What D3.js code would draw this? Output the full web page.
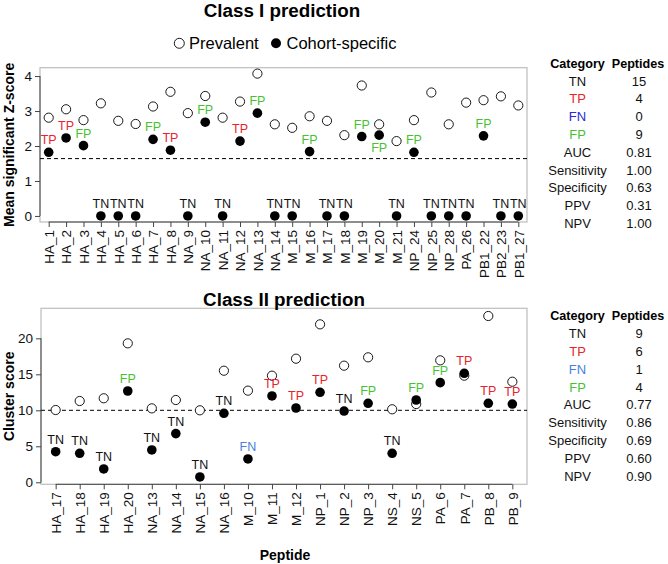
<!DOCTYPE html>
<html><head><meta charset="utf-8">
<script src="https://cdn.jsdelivr.net/npm/d3@7"></script>
<style>body{margin:0;background:#fff}svg{display:block;font-family:"Liberation Sans",Arial,Helvetica,sans-serif}</style>
</head><body>
<svg id="chart" width="668" height="564"></svg>
<script>
const classICats = ["HA_1","HA_2","HA_3","HA_4","HA_5","HA_6","HA_7","HA_8","NA_9","NA_10","NA_11","NA_12","NA_13","NA_14","M_15","M_16","M_17","M_18","M_19","M_20","M_21","NP_24","NP_25","NP_28","PA_26","PB1_22","PB2_23","PB1_27"];
const classIPrevalent = [2.81,3.05,2.74,3.22,2.72,2.63,3.13,3.55,2.94,3.43,2.81,3.27,4.07,2.62,2.52,2.85,2.72,2.31,3.73,2.62,2.14,2.74,3.53,2.62,3.24,3.31,3.42,3.16];
const classICohort = [1.82,2.23,2.01,0,0,0,2.19,1.88,0,2.68,0,2.14,2.94,0,0,1.84,0,0,2.27,2.31,0,1.82,0,0,0,2.29,0,0];
const classILabels = ["TP","TP","FP","TN","TN","TN","FP","TP","TN","FP","TN","TP","FP","TN","TN","FP","TN","TN","FP","FP","TN","FP","TN","TN","TN","FP","TN","TN"];
const classIThreshold = 1.64;
const classITicks = [0,1,2,3,4];

const classIICats = ["HA_17","HA_18","HA_19","HA_20","NA_13","NA_14","NA_15","NA_16","M_10","M_11","M_12","NP_1","NP_2","NP_3","NS_4","NS_5","PA_6","PA_7","PB_8","PB_9"];
const classIIPrevalent = [10.04,11.29,11.67,19.3,10.27,11.43,10.0,15.5,12.73,14.81,17.17,21.94,16.2,17.36,10.14,10.87,16.94,14.81,23.1,13.97];
const classIICohort = [4.25,4.03,1.85,12.68,4.49,6.76,0.74,9.58,3.24,11.99,10.32,12.5,9.9,10.97,4.03,11.43,13.84,15.14,10.97,10.87];
const classIILabels = ["TN","TN","TN","FP","TN","TN","TN","TN","FN","TP","TP","TP","TN","FP","TN","FP","FP","TP","TP","TP"];
const classIIThreshold = 10;
const classIITicks = [0,5,10,15,20];

const tableRows = ["TN","TP","FN","FP","AUC","Sensitivity","Specificity","PPV","NPV"];
const classITable = ["15","4","0","9","0.81","1.00","0.63","0.31","1.00"];
const classIITable = ["9","6","1","4","0.77","0.86","0.69","0.60","0.90"];
const labelsBelow = ["M_20"];

const svg = d3.select("#chart");
const FONT = '"Liberation Sans",Arial,Helvetica,sans-serif';

function drawPanel(opt){
  const g = svg.append("g");
  const x = d3.scalePoint().domain(opt.cats).range([opt.left, opt.right]).padding(opt.pad);
  const y = d3.scaleLinear().domain(opt.ydom).range([opt.bottom, opt.top]);
  // box
  g.append("rect").attr("x",opt.left).attr("y",opt.top).attr("width",opt.right-opt.left).attr("height",opt.bottom-opt.top)
    .attr("fill","none").attr("stroke","#bdbdbd").attr("stroke-width",1.2);
  // y axis
  const yAx = d3.axisLeft(y).tickValues(opt.ticks).tickSize(5).tickPadding(3).tickFormat(d3.format("d"));
  const ya = g.append("g").attr("transform",`translate(${opt.left},0)`).call(yAx);
  ya.select(".domain").attr("d",`M-0,${y(opt.ticks[0])}V${y(opt.ticks[opt.ticks.length-1])}`).attr("stroke","#444");
  ya.selectAll(".tick line").attr("stroke","#444");
  ya.selectAll("text").attr("font-size",13.5).attr("font-family",FONT).attr("fill","#111");
  // x axis
  const xAx = d3.axisBottom(x).tickSize(5).tickPadding(2);
  const xa = g.append("g").attr("transform",`translate(0,${opt.bottom})`).call(xAx);
  xa.select(".domain").attr("d",`M${x(opt.cats[0])},0H${x(opt.cats[opt.cats.length-1])}`).attr("stroke","#444");
  xa.selectAll(".tick line").attr("stroke","#444");
  xa.selectAll("text").attr("font-size",13.5).attr("font-family",FONT).attr("fill","#111")
    .attr("text-anchor","end").attr("transform","translate(0,8) rotate(-90)").attr("x",0).attr("y",0).attr("dy","0.35em");
  // threshold
  g.append("line").attr("x1",opt.left).attr("x2",opt.right).attr("y1",y(opt.thr)).attr("y2",y(opt.thr))
    .attr("stroke","#000").attr("stroke-width",1).attr("stroke-dasharray","4,3");
  // points
  g.selectAll("circle.prev").data(opt.cats).join("circle").attr("class","prev")
    .attr("cx",d=>x(d)).attr("cy",(d,i)=>y(opt.prev[i])).attr("r",4.6)
    .attr("fill","#fff").attr("stroke","#000").attr("stroke-width",0.9);
  g.selectAll("circle.coh").data(opt.cats).join("circle").attr("class","coh")
    .attr("cx",d=>x(d)).attr("cy",(d,i)=>y(opt.coh[i])).attr("r",4.8).attr("fill","#000");
  // labels
  g.selectAll("text.lab").data(opt.cats).join("text").attr("class","lab")
    .attr("x",d=>x(d)).attr("y",(d,i)=> labelsBelow.includes(d) ? y(opt.coh[i])+16.5 : y(opt.coh[i])-8)
    .attr("text-anchor","middle").attr("font-size",12.5).attr("font-family",FONT)
    .attr("fill",(d,i)=>opt.colors[opt.labels[i]]).text((d,i)=>opt.labels[i]);
  // y title
  g.append("text").attr("transform",`translate(${opt.ytx},${(opt.top+opt.bottom)/2}) rotate(-90)`)
    .attr("text-anchor","middle").attr("dy","0.35em").attr("font-size",14).attr("font-weight","bold").attr("font-family",FONT).text(opt.ytitle);
  // title
  g.append("text").attr("x",opt.titleX).attr("y",opt.titleY).attr("text-anchor","middle")
    .attr("font-size",18.8).attr("font-weight","bold").attr("font-family",FONT).text(opt.title);
  // table
  const t = g.append("g").attr("font-family",FONT);
  t.append("text").attr("x",577.5).attr("y",opt.tableY).attr("text-anchor","middle").attr("font-size",12.6).attr("font-weight","bold").text("Category");
  t.append("text").attr("x",638).attr("y",opt.tableY).attr("text-anchor","middle").attr("font-size",12.6).attr("font-weight","bold").text("Peptides");
  tableRows.forEach((r,i)=>{
    const yy = opt.tableY + 17.8*(i+1);
    t.append("text").attr("x",577.5).attr("y",yy).attr("text-anchor","middle").attr("font-size",13)
      .attr("fill",opt.colors[r]||"#111").text(r);
    t.append("text").attr("x",639).attr("y",yy).attr("text-anchor","middle").attr("font-size",13).attr("fill","#111").text(opt.table[i]);
  });
}

drawPanel({cats:classICats, prev:classIPrevalent, coh:classICohort, labels:classILabels, thr:classIThreshold, ticks:classITicks,
  left:40, right:527, top:67.7, bottom:222, pad:0.5, ydom:[-0.173,4.239],
  colors:{TN:"#111",TP:"#e8232b",FN:"#2a2ad6",FP:"#45c232"},
  ytitle:"Mean significant Z-score", ytx:9.5, title:"Class I prediction", titleX:282, titleY:17, tableY:67.8, table:classITable});

drawPanel({cats:classIICats, prev:classIIPrevalent, coh:classIICohort, labels:classIILabels, thr:classIIThreshold, ticks:classIITicks,
  left:41, right:527, top:308.3, bottom:484.3, pad:0.61, ydom:[-0.28,24.17],
  colors:{TN:"#111",TP:"#e8232b",FN:"#4a7fe2",FP:"#45c232"},
  ytitle:"Cluster score", ytx:9.5, title:"Class II prediction", titleX:284, titleY:306, tableY:320.3, table:classIITable});

// legend
const lg = svg.append("g").attr("font-family",FONT);
lg.append("circle").attr("cx",179.3).attr("cy",43.3).attr("r",5).attr("fill","#fff").attr("stroke","#000").attr("stroke-width",0.9);
lg.append("text").attr("x",189).attr("y",49.2).attr("font-size",16.5).text("Prevalent");
lg.append("circle").attr("cx",276).attr("cy",43.3).attr("r",5).attr("fill","#000");
lg.append("text").attr("x",286.5).attr("y",49.2).attr("font-size",16.5).text("Cohort-specific");

// x title
svg.append("text").attr("x",285).attr("y",559.5).attr("text-anchor","middle").attr("font-size",14).attr("font-weight","bold").attr("font-family",FONT).text("Peptide");
</script>
</body></html>
